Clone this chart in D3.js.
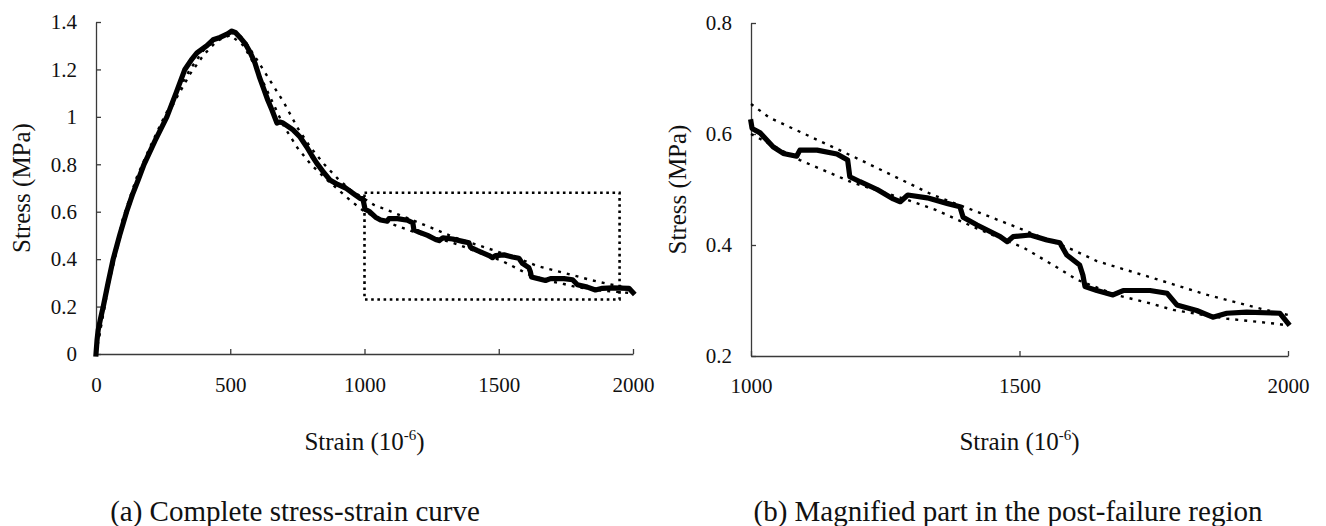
<!DOCTYPE html>
<html>
<head>
<meta charset="utf-8">
<script src="https://cdn.jsdelivr.net/npm/d3@7"></script>
<style>
    body { margin: 0; background: #fff; }
    svg text { font-family: 'Liberation Serif', 'Times New Roman', serif; fill: #111; }
</style>
</head>
<body>
<script>
// measured curve (strain 10^-6, stress MPa)
const strain = [0,4,8,17,27,45,64,88,114,135,157,179,220,264,298,331,355,376,413,436,462,490,506,520,540,555,575,592,608,622,640,655,674,685,697,715,734,760,785,805,822,845,871,900,930,960,985,994,1000,1002,1017,1041,1060,1085,1091,1123,1160,1180,1184,1203,1235,1265,1278,1292,1328,1365,1389,1395,1421,1464,1477,1488,1520,1551,1575,1588,1612,1618,1622,1644,1674,1693,1743,1775,1793,1830,1860,1886,1923,1985,2000];
const stress = [0,0.06,0.10,0.15,0.20,0.30,0.40,0.50,0.60,0.67,0.734,0.80,0.90,1.00,1.10,1.20,1.24,1.27,1.30,1.325,1.335,1.35,1.362,1.355,1.33,1.31,1.27,1.227,1.17,1.126,1.07,1.03,0.974,0.978,0.974,0.96,0.945,0.915,0.873,0.835,0.805,0.77,0.734,0.715,0.70,0.675,0.655,0.655,0.622,0.61,0.602,0.577,0.565,0.560,0.571,0.571,0.564,0.553,0.523,0.514,0.500,0.483,0.478,0.490,0.485,0.475,0.469,0.450,0.436,0.415,0.406,0.415,0.418,0.409,0.404,0.382,0.364,0.346,0.325,0.318,0.310,0.318,0.318,0.313,0.292,0.282,0.270,0.277,0.279,0.277,0.259];

// upper fitted curve
const fitAStrain = [0,50,100,150,200,250,300,350,400,450,500,530,560,600,650,700,750,800,850,900,950,1000,1035,1100,1200,1339,1426,1500,1600,1644,1750,1850,1950,2000];
const fitAStress = [0,0.33,0.57,0.74,0.87,0.99,1.10,1.20,1.28,1.33,1.355,1.35,1.31,1.24,1.15,1.06,0.955,0.87,0.80,0.74,0.69,0.654,0.629,0.60,0.555,0.49,0.458,0.43,0.391,0.371,0.34,0.31,0.285,0.274];

// lower fitted curve
const fitBStrain = [0,50,100,150,200,250,300,350,400,450,500,550,600,650,700,750,800,850,900,950,1000,1091,1190,1292,1345,1420,1508,1571,1608,1680,1743,1786,1888,1980,2000];
const fitBStress = [0,0.31,0.54,0.71,0.85,0.97,1.08,1.18,1.26,1.32,1.345,1.30,1.20,1.08,0.96,0.87,0.80,0.745,0.695,0.645,0.60,0.553,0.512,0.481,0.463,0.43,0.395,0.359,0.337,0.31,0.295,0.283,0.267,0.258,0.255];

// zoom box drawn on the full curve
const boxStrain = [1000, 1950];
const boxStress = [0.23, 0.68];

const xTicksA = [0, 500, 1000, 1500, 2000];
const yTicksA = [0, 0.2, 0.4, 0.6, 0.8, 1, 1.2, 1.4];
const xTicksB = [1000, 1500, 2000];
const yTicksB = [0.2, 0.4, 0.6, 0.8];

const captionA = '(a) Complete stress-strain curve';
const captionB = '(b) Magnified part in the post-failure region';

let width = 1326,
    height = 526;

let svg = d3.select('body')
    .append('svg')
    .attr('width', width)
    .attr('height', height);

function pts(xs, ys, lo) {
    let p = [];
    for (let i = 0; i < xs.length; i++) {
        if (xs[i] >= lo) p.push([xs[i], ys[i]]);
    }
    return p;
}

function drawChart(opt) {
    let x = d3.scaleLinear().domain(opt.xDom).range(opt.xRange);
    let y = d3.scaleLinear().domain(opt.yDom).range(opt.yRange);
    let g = svg.append('g');

    let xAxis = d3.axisBottom(x)
        .tickValues(opt.xTicks)
        .tickSizeInner(-5)
        .tickSizeOuter(0)
        .tickPadding(opt.xPad)
        .tickFormat(d3.format('d'));
    let yAxis = d3.axisLeft(y)
        .tickValues(opt.yTicks)
        .tickSizeInner(-5)
        .tickSizeOuter(0)
        .tickPadding(19)
        .tickFormat(d => String(+d.toFixed(1)));

    let gx = g.append('g')
        .attr('transform', 'translate(0,' + opt.yRange[0] + ')')
        .call(xAxis);
    let gy = g.append('g')
        .attr('transform', 'translate(' + opt.xRange[0] + ',0)')
        .call(yAxis);
    [gx, gy].forEach(a => {
        a.selectAll('path, line').attr('stroke', '#3a3a3a').attr('stroke-width', 1.3);
        a.selectAll('text').style('font-size', '21px').attr('fill', '#111');
    });

    let line = d3.line()
        .x(d => x(d[0]))
        .y(d => y(d[1]));

    // fitted curves, dotted
    [[fitAStrain, fitAStress], [fitBStrain, fitBStress]].forEach(f => {
        g.append('path')
            .attr('d', line(pts(f[0], f[1], opt.xDom[0])))
            .attr('fill', 'none')
            .attr('stroke', '#000')
            .attr('stroke-width', 2.4)
            .attr('stroke-dasharray', '3,6');
    });

    // measured curve
    g.append('path')
        .attr('d', line(pts(strain, stress, opt.xDom[0])))
        .attr('fill', 'none')
        .attr('stroke', '#000')
        .attr('stroke-width', 5.2)
        .attr('stroke-linejoin', 'round')
        .attr('stroke-linecap', 'square');

    if (opt.box) {
        g.append('rect')
            .attr('x', x(boxStrain[0]))
            .attr('y', y(boxStress[1]))
            .attr('width', x(boxStrain[1]) - x(boxStrain[0]))
            .attr('height', y(boxStress[0]) - y(boxStress[1]))
            .attr('fill', 'none')
            .attr('stroke', '#000')
            .attr('stroke-width', 2.6)
            .attr('stroke-dasharray', '2.6,3.6');
    }

    let cx = (opt.xRange[0] + opt.xRange[1]) / 2;
    let cy = (opt.yRange[0] + opt.yRange[1]) / 2;

    let t = g.append('text')
        .attr('x', cx)
        .attr('y', 450)
        .attr('text-anchor', 'middle')
        .style('font-size', '25px');
    t.append('tspan').text('Strain (10');
    t.append('tspan').attr('dy', -10).style('font-size', '15px').text('-6');
    t.append('tspan').attr('dy', 10).text(')');

    g.append('text')
        .attr('transform', 'translate(' + opt.yTitleX + ',' + cy + ') rotate(-90)')
        .attr('text-anchor', 'middle')
        .style('font-size', '25px')
        .text('Stress (MPa)');

    g.append('text')
        .attr('x', opt.capX)
        .attr('y', 521)
        .attr('text-anchor', 'middle')
        .style('font-size', '29px')
        .text(opt.caption);
}

drawChart({
    xDom: [0, 2000], xRange: [96, 633],
    yDom: [0, 1.4], yRange: [354, 22],
    xTicks: xTicksA, yTicks: yTicksA, xPad: 23,
    box: true, yTitleX: 30, capX: 295, caption: captionA
});

drawChart({
    xDom: [1000, 2000], xRange: [751, 1288],
    yDom: [0.2, 0.8], yRange: [356, 23],
    xTicks: xTicksB, yTicks: yTicksB, xPad: 22,
    box: false, yTitleX: 686, capX: 1008, caption: captionB
});
</script>
</body>
</html>
